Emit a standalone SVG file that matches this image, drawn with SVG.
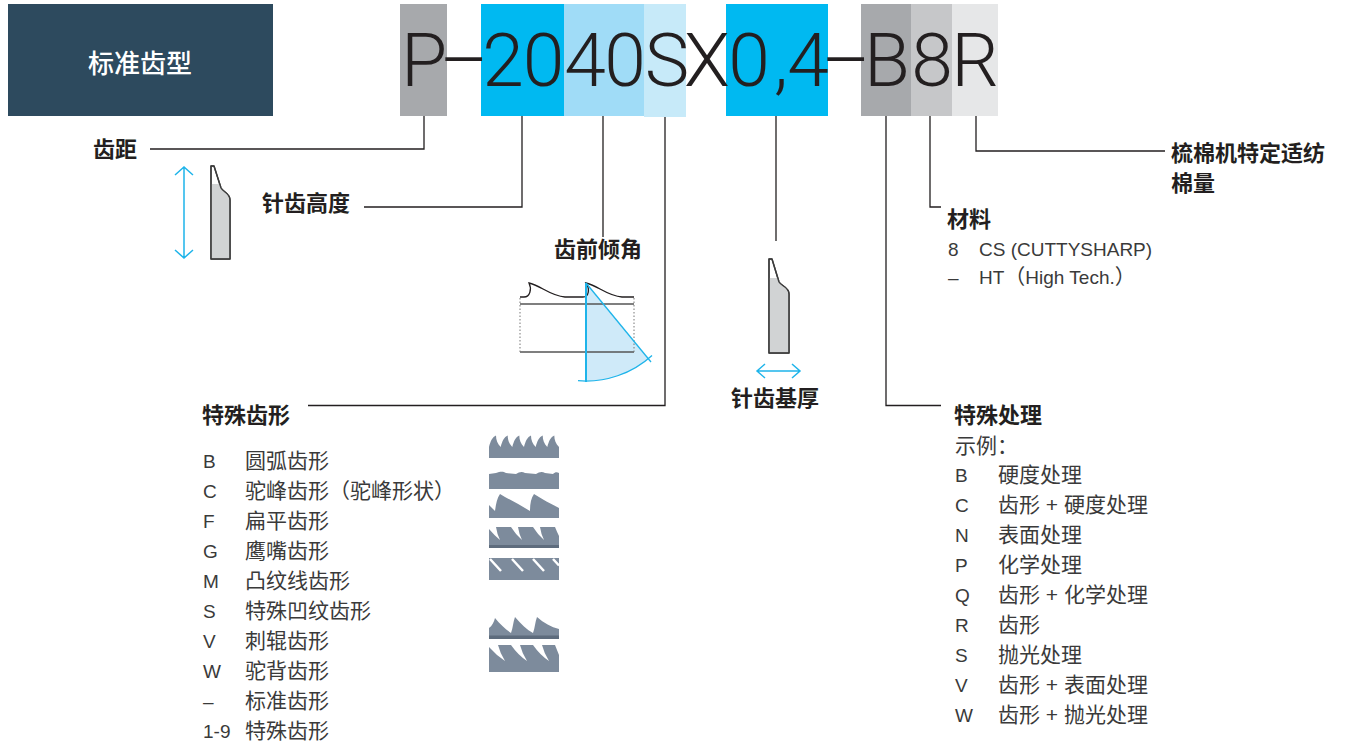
<svg xmlns="http://www.w3.org/2000/svg" width="1346" height="744" viewBox="0 0 1346 744">
<style>
.lbl{font-family:"Noto Sans CJK SC",sans-serif;font-weight:700;font-size:22px;fill:#231f20}
.li{font-family:"Liberation Sans","Noto Sans CJK SC",sans-serif;font-size:21px;fill:#3a3a3a}
.lt{font-family:"Liberation Sans",sans-serif;font-size:19px;fill:#3a3a3a}
.code{font-family:Roboto,"Liberation Sans",sans-serif;font-weight:300;font-size:75px;fill:#231f20;text-anchor:middle}
.conn{fill:none;stroke:#231f20;stroke-width:1.3}
.blue{fill:none;stroke:#1eb4ea;stroke-width:1.5}
.icon{fill:#7d8b9c}
.band{fill:#5e6c7d}
.gap{fill:#fff}
.tooth{fill:#fff;stroke:#3c3c3c;stroke-width:1.4;stroke-linejoin:round}
.toothfill{fill:#d1d3d4}
</style>

<g id="header">
<rect x="8" y="4" width="265" height="112" fill="#2d4a5e"/>
<text x="140" y="73" text-anchor="middle" style="font-family:'Noto Sans CJK SC',sans-serif;font-weight:500;font-size:26px;fill:#fff">标准齿型</text>
</g>

<g id="code">
<rect x="400" y="4" width="47" height="112" fill="#a7a9ac"/>
<rect x="481" y="4" width="83" height="112" fill="#00b9f1"/>
<rect x="564" y="4" width="80" height="112" fill="#a0dcf7"/>
<rect x="644" y="4" width="42" height="113" fill="#c7eaf9"/>
<rect x="726" y="4" width="102" height="112" fill="#00b9f1"/>
<rect x="861" y="4" width="50" height="112" fill="#a7a9ac"/>
<rect x="911" y="4" width="41" height="112" fill="#c6c7c9"/>
<rect x="952" y="4" width="46" height="112" fill="#e6e7e8"/>
<text class="code" x="424 464 503 543.5 585 625 667 707 749 781 808 846 887 932 975" y="86">P–2040SX0,4–B8R</text>
</g>

<g id="connectors">
<path class="conn" d="M424,116 V149 H150"/>
<path class="conn" d="M522,116 V207 H364"/>
<path class="conn" d="M603,116 V237"/>
<path class="conn" d="M665,117 V405.5 H308"/>
<path class="conn" d="M776,116 V241"/>
<path class="conn" d="M886,116 V405.5 H941"/>
<path class="conn" d="M930,116 V207 H941"/>
<path class="conn" d="M976,116 V151 H1165"/>
</g>

<g id="pitch">
<text class="lbl" x="93" y="156.5">齿距</text>
</g>

<g id="tooth-height">
<text class="lbl" x="262" y="210.5">针齿高度</text>
<path class="blue" d="M184,167 V258 M175,175 L184,167 L193,175 M175,250 L184,258 L193,250"/>
<path class="tooth" d="M211,259 V166 H214 L221,188 C223,192 230,193 230,200 V259 Z"/>
<path class="toothfill" d="M211.7,184 H219.5 L221,188 C223,192 229.3,193 229.3,200 V258.3 H211.7 Z"/>
<path class="tooth" style="fill:none" d="M211,259 V166 H214 L221,188 C223,192 230,193 230,200 V259 Z"/>
</g>

<g id="rake-angle">
<text class="lbl" x="554" y="256.5">齿前倾角</text>
<path d="M586,283 L586,381 A98,98 0 0 0 648.3,358.7 Z" fill="#cfeaf9"/>
<path d="M520,304 H634 M520,352 H634" fill="none" stroke="#555" stroke-width="1.5"/>
<path d="M520,298 V352 M634,298 V352" fill="none" stroke="#777" stroke-width="1" stroke-dasharray="1.5 2"/>
<path d="M520,297 L524,297 C530,297 532,289 529,283 C540,285 550,296 565,297 L583,297 C589,297 590,289 586,283 C597,285 607,296 622,297 L634,297" fill="none" stroke="#231f20" stroke-width="1.3"/>
<path d="M586,283 V382" fill="none" stroke="#1eb4ea" stroke-width="2"/>
<path d="M586,283 L651,362" fill="none" stroke="#1eb4ea" stroke-width="1.3"/>
<path d="M578,380.7 A98,98 0 0 0 652,355.4" fill="none" stroke="#1eb4ea" stroke-width="1.3"/>
</g>

<g id="tooth-thickness">
<path class="tooth" d="M769,353 V259 H772 L779,282 C781,286 789,287 789,294 V353 Z"/>
<path class="toothfill" d="M769.7,278 H777.8 L779,282 C781,286 788.3,287 788.3,294 V352.3 H769.7 Z"/>
<path class="tooth" style="fill:none" d="M769,353 V259 H772 L779,282 C781,286 789,287 789,294 V353 Z"/>
<path class="blue" d="M757,371 H800 M765,364 L757,371 L765,378 M792,364 L800,371 L792,378"/>
<text class="lbl" x="731" y="406">针齿基厚</text>
</g>

<g id="special-profile">
<text class="lbl" x="202" y="422.5">特殊齿形</text>
<g>
<text class="lt" x="203" y="468">B</text><text class="li" x="245" y="468">圆弧齿形</text>
<text class="lt" x="203" y="498">C</text><text class="li" x="245" y="498">驼峰齿形（驼峰形状）</text>
<text class="lt" x="203" y="528">F</text><text class="li" x="245" y="528">扁平齿形</text>
<text class="lt" x="203" y="558">G</text><text class="li" x="245" y="558">鹰嘴齿形</text>
<text class="lt" x="203" y="588">M</text><text class="li" x="245" y="588">凸纹线齿形</text>
<text class="lt" x="203" y="618">S</text><text class="li" x="245" y="618">特殊凹纹齿形</text>
<text class="lt" x="203" y="648">V</text><text class="li" x="245" y="648">刺辊齿形</text>
<text class="lt" x="203" y="678">W</text><text class="li" x="245" y="678">驼背齿形</text>
<text class="lt" x="203" y="708">–</text><text class="li" x="245" y="708">标准齿形</text>
<text class="lt" x="203" y="738">1-9</text><text class="li" x="245" y="738">特殊齿形</text>
</g>
</g>

<g id="profile-icons">
<path id="icon-B" class="icon" d="M489,458 L489,447 C490.5,441 492.5,437 496,435.5 C496,440 497.5,444 500.7,447 C502.2,441 504.2,437 507.7,435.5 C507.7,440 509.2,444 512.3,447 C513.8,441 515.8,437 519.3,435.5 C519.3,440 520.8,444 524,447 C525.5,441 527.5,437 531,435.5 C531,440 532.5,444 535.7,447 C537.2,441 539.2,437 542.7,435.5 C542.7,440 544.2,444 547.3,447 C548.8,441 550.8,437 554.3,435.5 C554.3,440 555.8,444 559,447 L559,458 Z"/>
<path id="icon-C" class="icon" d="M489,489 V474 L496,473 C500,471.5 503,471 506,473 L516,474 C519,472 522,471 525,473 L536,474 C539,472 542,471 545,473 L553,474 C555,472 557,472 559,473 V489 Z"/>
<path id="icon-F" class="icon" d="M489,518 L489,505 C491,507 493,509 495,511 C496,504 497,498 500,494 C510,500 520,505 530,511 C530,504 531,498 534,494 C542,499 551,504 559,508 L559,518 Z"/>
<g id="icon-G">
<rect class="icon" x="489" y="527" width="70" height="21"/>
<rect class="band" x="489" y="545" width="70" height="3"/>
<path class="gap" d="M489,527 H496 Q497,534 500,540 Q494,535 489,529 Z M511,527 H518 Q519,534 522,540 Q516,535 511,527 Z M533,527 H540 Q541,534 544,540 Q538,535 533,527 Z M555,527 H559 V536 Q557,532 555,527 Z"/>
</g>
<g id="icon-M">
<rect class="icon" x="489" y="558" width="70" height="22"/>
<path d="M490,559 L501,571 M512,559 L523,571 M533,559 L544,571 M553,559 L559,565.5" fill="none" stroke="#fff" stroke-width="2.5"/>
</g>
<g id="icon-V">
<path class="icon" d="M489,639 V628 C492,626 494,622 495,618 C500,624 506,630 511,633 C513,628 513,622 515,617 C521,624 527,630 533,633 C535,628 535,622 537,617 C544,623 551,627 559,629 V639 Z"/>
<rect class="band" x="489" y="635.5" width="70" height="3.5"/>
</g>
<g id="icon-W">
<rect class="icon" x="489" y="645" width="70" height="27"/>
<path class="gap" d="M489,645 H498 Q500,653 505,661 Q496,655 489,647 Z M511,645 H520 Q522,653 527,661 Q518,655 511,645 Z M533,645 H542 Q544,653 549,661 Q540,655 533,645 Z M555,645 H559 V655 Q557,650 555,645 Z"/>
</g>
</g>

<g id="material">
<text class="lbl" x="947" y="226.5">材料</text>
<text class="lt" x="948" y="256">8</text><text class="lt" x="979" y="256">CS (CUTTYSHARP)</text>
<text class="lt" x="948" y="284">–</text><text class="li" x="979" y="284"><tspan style="font-size:19px">HT</tspan>（<tspan style="font-size:19px">High Tech.</tspan>）</text>
</g>

<g id="card-specific">
<text class="lbl" x="1171" y="161">梳棉机特定适纺</text>
<text class="lbl" x="1171" y="190.5">棉量</text>
</g>

<g id="special-treatment">
<text class="lbl" x="954" y="423">特殊处理</text>
<text class="li" x="955" y="452.5">示例：</text>
<text class="lt" x="955" y="482">B</text><text class="li" x="998" y="482">硬度处理</text>
<text class="lt" x="955" y="512">C</text><text class="li" x="998" y="512">齿形 + 硬度处理</text>
<text class="lt" x="955" y="542">N</text><text class="li" x="998" y="542">表面处理</text>
<text class="lt" x="955" y="572">P</text><text class="li" x="998" y="572">化学处理</text>
<text class="lt" x="955" y="602">Q</text><text class="li" x="998" y="602">齿形 + 化学处理</text>
<text class="lt" x="955" y="632">R</text><text class="li" x="998" y="632">齿形</text>
<text class="lt" x="955" y="662">S</text><text class="li" x="998" y="662">抛光处理</text>
<text class="lt" x="955" y="692">V</text><text class="li" x="998" y="692">齿形 + 表面处理</text>
<text class="lt" x="955" y="722">W</text><text class="li" x="998" y="722">齿形 + 抛光处理</text>
</g>
</svg>
